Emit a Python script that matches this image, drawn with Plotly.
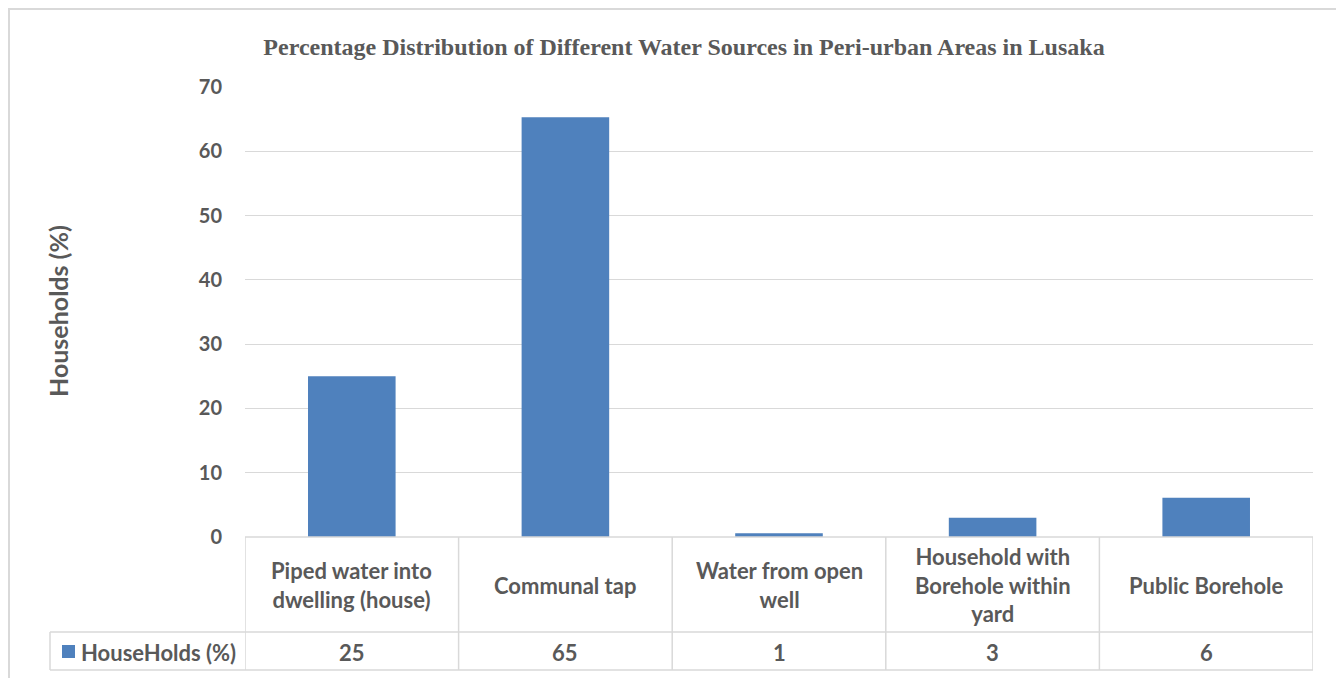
import plotly.graph_objects as go

# ---- data ----
categories = ["Piped water into dwelling (house)", "Communal tap", "Water from open well",
              "Household with Borehole within yard", "Public Borehole"]
header_labels = ["Piped water into<br>dwelling (house)", "Communal tap", "Water from open<br>well",
                 "Household with<br>Borehole within<br>yard", "Public Borehole"]
households_pct = [25, 65.3, 0.6, 3.0, 6.1]
series_name = "HouseHolds (%)"
y_ticks = [0, 10, 20, 30, 40, 50, 60, 70]
title_text = "Percentage Distribution of Different Water Sources in Peri-urban Areas in Lusaka"
y_title = "Households (%)"

# ---- geometry (reference pixel coordinates; page body adds an 8px margin) ----
OFF = 8
W, H = 1344 - OFF, 678 - OFF
L, R, T, B = 245, 1313, 87, 537
def px(x):
    return (x - L) / (R - L)
def py(y):
    return (B - y) / (B - T)

BAR = "#4F81BD"
GRID = "#D9D9D9"
TXT = "#595959"
FONT = "Lato"

fig = go.Figure()
fig.add_trace(go.Bar(x=categories, y=households_pct, marker=dict(color=BAR, line=dict(width=0)),
                     name=series_name, showlegend=False, hoverinfo="x+y"))

shapes = []
shapes.append(dict(type="rect", xref="paper", yref="paper", x0=px(9), x1=px(1341), y0=py(700), y1=py(9),
                   line=dict(color=GRID, width=2), fillcolor="rgba(0,0,0,0)", layer="below"))
shapes.append(dict(type="line", xref="paper", yref="paper", x0=0, x1=1, y0=0, y1=0,
                   line=dict(color=GRID, width=1.5)))
for yy in (632, 670):
    shapes.append(dict(type="line", xref="paper", yref="paper", x0=px(50), x1=1, y0=py(yy), y1=py(yy),
                       line=dict(color=GRID, width=1.5)))
for i in range(len(categories) + 1):
    shapes.append(dict(type="line", xref="x", yref="paper", x0=i - 0.5, x1=i - 0.5, y0=0, y1=py(670),
                       line=dict(color=GRID, width=1.5)))
shapes.append(dict(type="line", xref="paper", yref="paper", x0=px(50), x1=px(50), y0=py(632), y1=py(670),
                   line=dict(color=GRID, width=1.5)))
shapes.append(dict(type="rect", xref="paper", yref="paper", x0=px(62), x1=px(75), y0=py(658), y1=py(645),
                   line=dict(width=0), fillcolor=BAR))

bold = dict(family=FONT, size=22, color=TXT, weight="bold")
annotations = []
for i, lab in enumerate(header_labels):
    annotations.append(dict(x=i, xref="x", y=py(585), yref="paper", text=lab, showarrow=False,
                            xanchor="center", yanchor="middle", font=bold))
    v = households_pct[i]
    annotations.append(dict(x=i, xref="x", y=py(652), yref="paper", text=f"{int(v + 0.5)}",
                            showarrow=False, xanchor="center", yanchor="middle", font=bold))
annotations.append(dict(x=px(79), xref="paper", y=py(652), yref="paper", text=series_name,
                        showarrow=False, xanchor="left", yanchor="middle", font=bold))
annotations.append(dict(x=px(58), xref="paper", y=py(311), yref="paper", text=y_title,
                        showarrow=False, xanchor="center", yanchor="middle", textangle=-90,
                        font=dict(family=FONT, size=25, color=TXT, weight="bold")))

fig.update_layout(
    width=W, height=H,
    margin=dict(l=L - OFF, r=W - (R - OFF), t=T - OFF, b=H - (B - OFF), autoexpand=False),
    paper_bgcolor="white", plot_bgcolor="white",
    bargap=0.59,
    title=dict(text=title_text, x=(684 - OFF) / W, xanchor="center",
               y=1 - (47 - OFF) / H, yanchor="middle",
               font=dict(family="Liberation Serif", size=24, color=TXT, weight="bold")),
    xaxis=dict(showticklabels=False, showgrid=False, zeroline=False, showline=False, ticks="",
               range=[-0.5, len(categories) - 0.5]),
    yaxis=dict(range=[0, 70], tickvals=y_ticks, showgrid=True, gridcolor=GRID, gridwidth=1,
               zeroline=False, showline=False, ticks="", ticklabelstandoff=22,
               tickfont=dict(family=FONT, size=20, color=TXT, weight="bold")),
    shapes=shapes, annotations=annotations,
    showlegend=False,
)

fig.write_html("out.html")
